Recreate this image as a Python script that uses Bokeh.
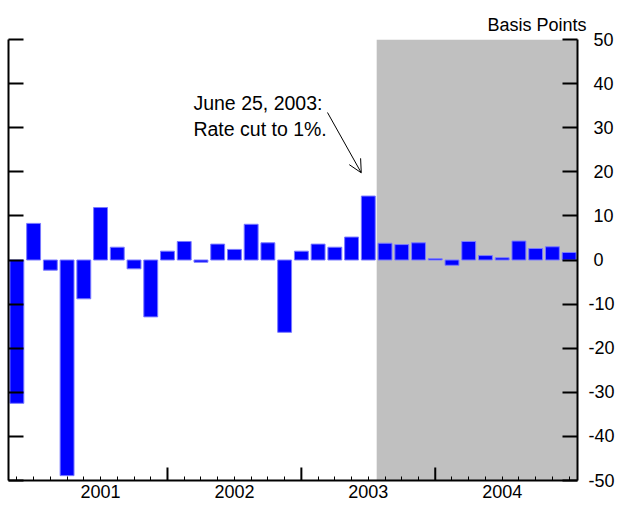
from bokeh.plotting import figure
from bokeh.models import (LinearAxis, FixedTicker, Range1d, BoxAnnotation, Label,
                          Arrow, OpenHead, Title)
from bokeh.embed import file_html
from bokeh.resources import INLINE

# ---- data (basis points, one bar per FOMC meeting) ----
values = [-32.5, 8.3, -2.3, -48.9, -8.8, 11.9, 2.9, -2.0, -12.9, 2.0,
          4.2, -0.5, 3.6, 2.4, 8.1, 3.9, -16.4, 2.0, 3.6, 2.9,
          5.2, 14.5, 3.8, 3.5, 3.9, 0.3, -1.2, 4.2, 1.0, 0.5,
          4.3, 2.6, 3.0, 1.7]
year_names = ["2001", "2002", "2003", "2004"]
year_first_bar = [1, 9, 17, 25]
bars_per_year = 8
event_index = 21
event_lines = ["June 25, 2003:", "Rate cut to 1%."]
y_ticks = [-50, -40, -30, -20, -10, 0, 10, 20, 30, 40, 50]
y_unit_label = "Basis Points"

idx = list(range(len(values)))
FONT = "Liberation Sans"

p = figure(width=619, height=506, output_backend="svg", toolbar_location=None,
           x_range=Range1d(-0.5, len(values) - 0.5), y_range=Range1d(-50, 50),
           min_border_left=8, min_border_top=39, min_border_right=42,
           min_border_bottom=26)
p.outline_line_color = None
p.xgrid.visible = False
p.ygrid.visible = False
p.background_fill_color = "white"

# shaded period after the event
p.add_layout(BoxAnnotation(left=event_index + 0.5, fill_color="#c0c0c0",
                           fill_alpha=1.0, line_color=None, level="underlay"))

# bars
p.vbar(x=idx, top=values, bottom=0, width=0.83, fill_color="#0000ff",
       line_color="#7a7aff", line_width=1)

# left axis (ticks only)
ly = p.yaxis[0]
ly.ticker = FixedTicker(ticks=y_ticks)
ly.major_tick_in = 15
ly.major_tick_out = 0
ly.minor_tick_in = 0
ly.minor_tick_out = 0
ly.major_tick_line_width = 2
ly.axis_line_width = 2
ly.major_label_overrides = {t: "" for t in y_ticks}
ly.major_label_standoff = 0

# right axis with labels
ry = LinearAxis(ticker=FixedTicker(ticks=y_ticks))
ry.major_tick_in = 15
ry.major_tick_out = 0
ry.minor_tick_in = 0
ry.minor_tick_out = 0
ry.major_tick_line_width = 2
ry.axis_line_width = 2
ry.major_label_standoff = 11
ry.major_label_text_font = FONT
ry.major_label_text_font_size = "18px"
ry.major_label_text_color = "black"
ry.major_label_overrides = {t: (str(t) if t < 0 else "\u2008" + str(t)) for t in y_ticks}
p.add_layout(ry, "right")

# bottom axis: year labels, minor ticks at each meeting
label_pos = [f + (bars_per_year - 1) / 2 + 0.5 for f in year_first_bar]
bx = p.xaxis[0]
bx.ticker = FixedTicker(ticks=label_pos, minor_ticks=idx)
bx.major_label_overrides = {lp: n for lp, n in zip(label_pos, year_names)}
bx.major_tick_in = 0
bx.major_tick_out = 0
bx.minor_tick_in = 4
bx.minor_tick_out = 0
bx.minor_tick_line_width = 1
bx.axis_line_width = 2
bx.major_label_standoff = 4
bx.major_label_text_font = FONT
bx.major_label_text_font_size = "18px"
bx.major_label_text_color = "black"

# year boundary ticks
bounds = year_first_bar[1:]
tick_len = 2.95
p.segment(x0=bounds, x1=bounds, y0=[-50] * len(bounds),
          y1=[-50 + tick_len] * len(bounds), line_color="black", line_width=2)

# unit label
p.add_layout(Title(text=y_unit_label, align="left", offset=479, standoff=10,
                   text_font=FONT, text_font_size="18px", text_color="black",
                   text_font_style="normal"), "above")

# event annotation
p.add_layout(Label(x=10.55, y=35.5, text=event_lines[0], text_font=FONT,
                   text_font_size="19.5px", text_color="black",
                   text_baseline="alphabetic"))
p.add_layout(Label(x=10.55, y=29.6, text=event_lines[1], text_font=FONT,
                   text_font_size="19.5px", text_color="black",
                   text_baseline="alphabetic"))
p.add_layout(Arrow(end=OpenHead(size=13, line_width=1, line_color="black"),
                   x_start=event_index - 2.44, y_start=values[event_index] + 18.95,
                   x_end=event_index - 0.42, y_end=values[event_index] + 5.27,
                   line_width=1, line_color="black"))

open("out.html", "w").write(file_html(p, INLINE))
